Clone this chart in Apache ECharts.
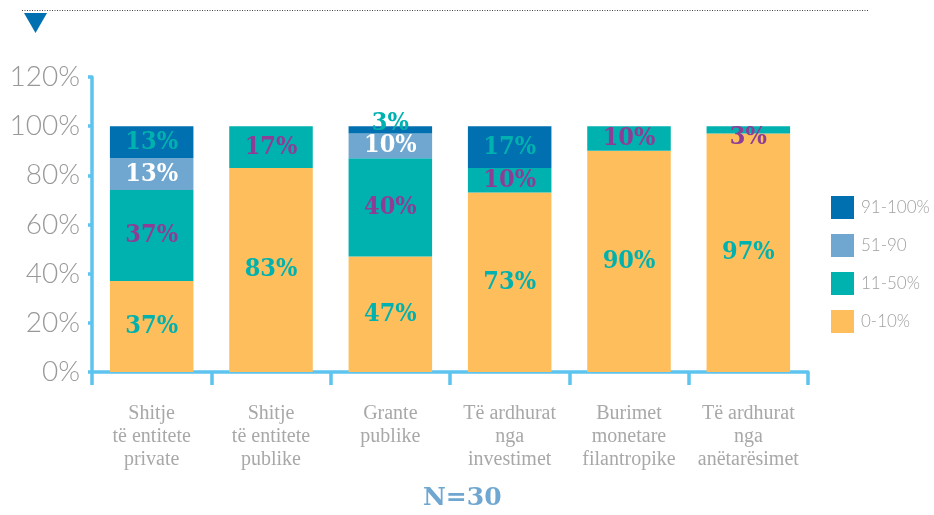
<!DOCTYPE html>
<html>
<head>
<meta charset="utf-8">
<script src="https://cdn.jsdelivr.net/npm/echarts@6/dist/echarts.min.js"></script>
<style>
  html, body { margin: 0; padding: 0; background: #fff; }
  #chart { width: 934px; height: 515px; }
</style>
</head>
<body>
<div id="chart"></div>
<script>
const categories = [
  'Shitje\ntë entitete\nprivate',
  'Shitje\ntë entitete\npublike',
  'Grante\npublike',
  'Të ardhurat\nnga\ninvestimet',
  'Burimet\nmonetare\nfilantropike',
  'Të ardhurat\nnga\nanëtarësimet'
]
const seriesNames = ['0-10%', '11-50%', '51-90', '91-100%']
const share0to10 = [37, 83, 47, 73, 90, 97]
const share11to50 = [37, 17, 40, 10, 10, 3]
const share51to90 = [13, null, 10, null, null, null]
const share91to100 = [13, null, 3, 17, null, null]
const yTicks = [0, 20, 40, 60, 80, 100, 120]

const colors = ['#FDBE5B', '#00B2AF', '#6FA7D0', '#0070B0']
const labelColors = ['#00B2AF', '#8E3D97', '#ffffff', '#00B2AF']
const axisBlue = '#5DC4F0'

// small segments get their label nudged off the bar edge
const labelNudge = { '3-2': [0, -6], '1-5': [0, 8] }

const seriesData = [share0to10, share11to50, share51to90, share91to100]

const chart = echarts.init(document.getElementById('chart'))

const series = seriesData.map((vals, si) => ({
  name: seriesNames[si],
  type: 'bar',
  stack: 'total',
  barWidth: '70%',
  itemStyle: { color: colors[si] },
  label: {
    show: true,
    position: 'inside',
    color: labelColors[si],
    fontFamily: 'DejaVu Serif Condensed',
    fontWeight: 'bold',
    fontSize: 25,
    formatter: p => (p.value ? p.value + '%' : '')
  },
  data: vals.map((v, i) => {
    const nudge = labelNudge[si + '-' + i]
    return nudge ? { value: v, label: { offset: nudge } } : v
  })
}))

chart.setOption({
  animation: false,
  backgroundColor: '#fff',
  grid: { left: 92, right: 126, top: 77, bottom: 143, containLabel: false },
  legend: {
    data: ['91-100%', '51-90', '11-50%', '0-10%'],
    orient: 'vertical',
    left: 826,
    top: 191,
    itemWidth: 23,
    itemHeight: 23,
    itemGap: 15,
    icon: 'rect',
    textStyle: { color: '#a0a0a0', fontSize: 17, fontFamily: 'Lato', fontWeight: 300, padding: [0, 0, 0, 2] }
  },
  xAxis: {
    type: 'category',
    data: categories,
    axisLine: { lineStyle: { color: axisBlue, width: 3.5 } },
    axisTick: { show: true, length: 13, lineStyle: { color: axisBlue, width: 3.5 } },
    axisLabel: {
      color: '#a8a8a8',
      fontFamily: 'Liberation Serif',
      fontSize: 20,
      lineHeight: 23,
      margin: 30,
      interval: 0
    }
  },
  yAxis: {
    type: 'value',
    min: yTicks[0],
    max: yTicks[yTicks.length - 1],
    interval: 20,
    splitLine: { show: false },
    axisLine: { show: true, lineStyle: { color: axisBlue, width: 3.5 } },
    axisTick: { show: true, length: 4, lineStyle: { color: axisBlue, width: 3.5 } },
    axisLabel: {
      color: '#999',
      fontFamily: 'Lato',
      fontWeight: 300,
      fontSize: 28,
      margin: 12,
      formatter: '{value}%'
    }
  },
  graphic: [
    {
      type: 'line',
      shape: { x1: 22, y1: 10.5, x2: 868, y2: 10.5 },
      style: { stroke: '#444', lineWidth: 1, lineDash: [1, 1.5] }
    },
    {
      type: 'polygon',
      shape: { points: [[24, 13], [47, 13], [35.5, 33]] },
      style: { fill: '#0070B0' }
    },
    {
      type: 'text',
      left: 423,
      top: 486,
      style: {
        text: 'N=30',
        fill: '#6FA7D0',
        fontFamily: 'DejaVu Serif',
        fontWeight: 'bold',
        fontSize: 25
      }
    }
  ],
  series: series
})
</script>
</body>
</html>
